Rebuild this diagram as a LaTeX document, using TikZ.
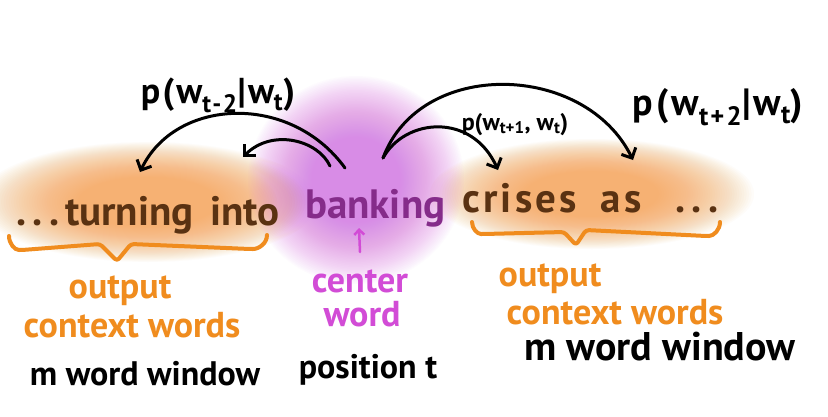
\documentclass[tikz,border=0pt]{standalone}
\usepackage{fontspec}
\setmainfont{PT Sans}
\usetikzlibrary{arrows.meta}
\definecolor{glowor}{HTML}{F6A04C}
\definecolor{glowpu}{HTML}{D868E6}
\definecolor{brownw}{HTML}{5A3212}
\definecolor{bankp}{HTML}{852C8A}
\definecolor{orw}{HTML}{F08C1E}
\definecolor{cpu}{HTML}{D24CD6}
\tikzset{
  mainw/.style={font=\fontsize{41}{41}\selectfont\bfseries, anchor=base west, inner sep=0pt},
  lab/.style={font=\fontsize{36}{36}\selectfont\bfseries, anchor=base, inner sep=0pt},
  plab/.style={font=\fontsize{34}{34}\selectfont\bfseries, anchor=base, inner sep=0pt, black},
  problab/.style={anchor=base, inner sep=0pt, black},
  arr/.style={line width=3pt, black, line cap=round, -{Straight Barb[length=8pt,width=16pt,line width=3pt]}},
  bracestyle/.style={draw=orw, line width=4pt, line cap=round, line join=round, rounded corners=3pt},
}
\newcommand{\glowblob}[6]{% color, cx, cy, rx, ry, opacity
  \foreach \k in {0,...,39}{
    \fill[#1, opacity=#6] (#2,#3) ellipse [x radius={#4*(1-0.015*\k)*1pt}, y radius={#5*(1-0.015*\k)*1pt}];
  }
}
\begin{document}
\begin{tikzpicture}[x=1pt,y=-1pt]
\useasboundingbox (0,0) rectangle (828,416);
\fill[white] (0,0) rectangle (828,416);
% glows
\glowblob{glowor}{148}{202}{170}{60}{0.03}
\glowblob{glowor}{592}{194}{162}{55}{0.03}
\glowblob{glowpu}{356}{180}{108}{104}{0.026}
% main words
\node[mainw, brownw] (dotsL) at (16,225) {\addfontfeature{LetterSpace=15}...};
\node[mainw, brownw] (turning) at (65,225) {turning};
\node[mainw, brownw] (into) at (210,225) {into};
\node[mainw, bankp] (banking) at (305,218) {banking};
\node[mainw, brownw] (crises) at (462,212) {\addfontfeature{LetterSpace=8}crises};
\node[mainw, brownw] (as) at (600,212) {\addfontfeature{LetterSpace=10}as};
\node[mainw, brownw] (dotsR) at (675,212) {\addfontfeature{LetterSpace=15}...};
% arrow ends
\coordinate (s1) at (345,168);
\coordinate (e1) at (140,172);
\coordinate (s2) at (330,166);
\coordinate (e2) at (243,157);
\coordinate (s3) at (383,158);
\coordinate (e3) at (633,160);
\coordinate (e4) at (498,170);
\draw[arr] (s1) .. controls (290,92) and (175,98) .. (e1);
\draw[arr] (s2) .. controls (318,140) and (272,128) .. (e2);
\draw[arr] (s3) .. controls (420,58) and (585,62) .. (e3);
\draw[arr] (s3) .. controls (405,118) and (472,112) .. (e4);
% probability labels
\node[problab, font=\fontsize{36}{36}\selectfont\bfseries\addfontfeature{LetterSpace=6}] (p1) at (218,103) {p(w\textsubscript{t-2}|w\textsubscript{t})};
\node[problab, font=\fontsize{24}{24}\selectfont\bfseries] (p2) at (515,130) {p(w\textsubscript{t+1}, w\textsubscript{t})};
\node[problab, font=\fontsize{38}{38}\selectfont\bfseries\addfontfeature{LetterSpace=8}] (p3) at (718,115) {p(w\textsubscript{t+2}|w\textsubscript{t})};
% braces
\coordinate (bl1) at (9,236);
\coordinate (bl2) at (267,235);
\coordinate (br1) at (472,222);
\coordinate (br2) at (720,222);
\draw[bracestyle] (bl1) to[out=-90,in=180] (22,250) -- (100,244) -- (117,261) -- (131,244) -- (250,249) to[out=0,in=-90] (bl2);
\draw[bracestyle] (br1) to[out=-90,in=180] (484,234) -- (564,232) -- (576,245) -- (586,230) -- (706,236) to[out=0,in=-90] (br2);
% center arrow
\coordinate (ca1) at (360,252);
\coordinate (ca2) at (359,228);
\draw[line width=2.5pt, cpu, line cap=round, -{Straight Barb[length=5pt,width=10pt,line width=2.5pt]}] (ca1) -- (ca2);
% bottom labels
\node[lab, orw] (outL) at (120,298) {output};
\node[lab, orw] (ctxL) at (132,337) {context words};
\node[lab, cpu] (cen) at (360,292) {center};
\node[lab, cpu] (wrd) at (362,326) {word};
\node[lab, orw] (outR) at (550,286) {output};
\node[lab, orw] (ctxR) at (615,324) {context words};
\node[plab] (mwL) at (145,385) {m word window};
\node[plab] (pos) at (368,378) {position t};
\node[plab, font=\fontsize{40}{40}\selectfont\bfseries] (mwR) at (660,360) {m word window};
\end{tikzpicture}
\end{document}
